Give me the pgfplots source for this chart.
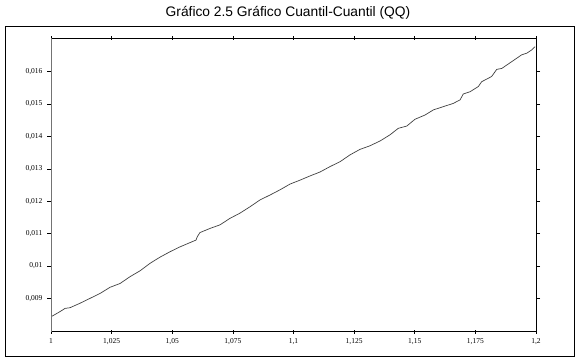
\documentclass[border=0pt]{standalone}
\usepackage{pgfplots}
\pgfplotsset{compat=1.18}
\usepackage{fontspec}
\setmainfont{Liberation Serif}
\newfontfamily\titlefont{Liberation Sans}
\begin{document}
\begin{tikzpicture}
\useasboundingbox (0pt,0pt) rectangle (577pt,362pt);
\draw[black, line width=0.8pt] (5pt,6pt) rectangle (574pt,336pt);
\node[font=\titlefont\fontsize{13.8}{15}\selectfont] at (288pt,349pt) {Gráfico 2.5 Gráfico Cuantil-Cuantil (QQ)};
\begin{axis}[
  at={(51pt,30.3pt)}, anchor=south west,
  scale only axis, width=485pt, height=293.4pt,
  xmin=1, xmax=1.2, ymin=0.00797, ymax=0.01703,
  xtick={1,1.025,1.05,1.075,1.1,1.125,1.15,1.175,1.2},
  xticklabels={1,{1,025},{1,05},{1,075},{1,1},{1,125},{1,15},{1,175},{1,2}},
  ytick={0.009,0.01,0.011,0.012,0.013,0.014,0.015,0.016},
  yticklabels={{0,009},{0,01},{0,011},{0,012},{0,013},{0,014},{0,015},{0,016}},
  scaled ticks=false,
  tick label style={font=\fontsize{7.5}{8}\selectfont},
  xtick align=center, ytick align=outside,
  major tick length=4pt,
  tick style={black, line width=0.6pt},
  axis line style={black, line width=0.9pt},
  xticklabel style={yshift=-1pt},
  yticklabel style={xshift=-1pt},
]
\addplot[color=black!75, line width=0.7pt, mark=none] coordinates {
(1.0000,0.00843) (1.0037,0.00859) (1.0058,0.00869) (1.0078,0.00871)
(1.0120,0.00885) (1.0161,0.00900) (1.0202,0.00915) (1.0243,0.00934)
(1.0285,0.00946) (1.0326,0.00967) (1.0367,0.00985) (1.0408,0.01008)
(1.0449,0.01027) (1.0491,0.01044) (1.0532,0.01059) (1.0573,0.01072)
(1.0598,0.01080) (1.0603,0.01090) (1.0614,0.01103) (1.0656,0.01116)
(1.0697,0.01127) (1.0738,0.01147) (1.0779,0.01163) (1.0821,0.01183)
(1.0862,0.01204) (1.0903,0.01219) (1.0944,0.01235) (1.0986,0.01253)
(1.1027,0.01265) (1.1068,0.01278) (1.1109,0.01290) (1.1151,0.01307)
(1.1192,0.01322) (1.1233,0.01343) (1.1274,0.01360) (1.1315,0.01371)
(1.1357,0.01386) (1.1398,0.01405) (1.1432,0.01425) (1.1467,0.01432)
(1.1501,0.01453) (1.1542,0.01466) (1.1577,0.01482) (1.1618,0.01492)
(1.1659,0.01502) (1.1687,0.01513) (1.1700,0.01531) (1.1728,0.01538)
(1.1762,0.01554) (1.1776,0.01569) (1.1817,0.01585) (1.1838,0.01607)
(1.1859,0.01610) (1.1900,0.01631) (1.1941,0.01652) (1.1962,0.01657)
(1.1982,0.01667) (1.1996,0.01677)
};
\draw[black!55, line width=1.6pt] (rel axis cs:0,0) -- (rel axis cs:0,1);
\end{axis}
\end{tikzpicture}
\end{document}
